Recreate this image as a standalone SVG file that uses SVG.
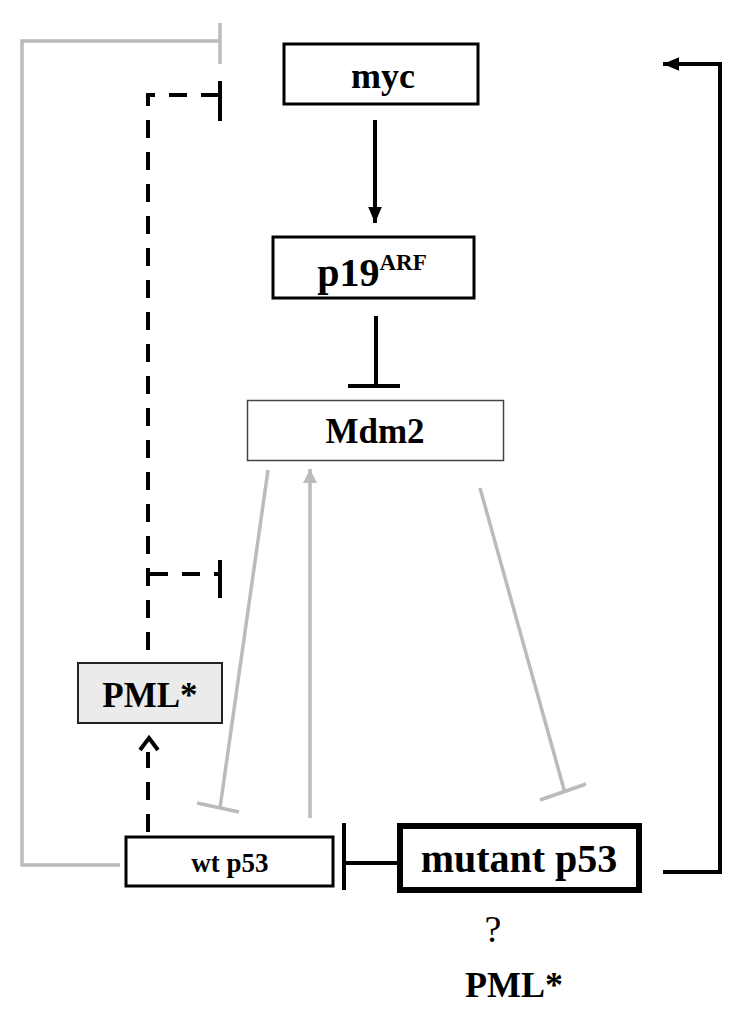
<svg xmlns="http://www.w3.org/2000/svg" width="750" height="1025" viewBox="0 0 750 1025">
<style>
.t{font-family:"Liberation Serif","Times New Roman",serif;font-weight:bold;fill:#000;text-anchor:middle}
.box{fill:#fff;stroke:#000;stroke-width:3}
.blk{fill:none;stroke:#000;stroke-width:4}
.dash{fill:none;stroke:#000;stroke-width:4;stroke-dasharray:18 14}
.gry{fill:none;stroke:#bbb;stroke-width:3.5}
</style>
<defs>
<marker id="ab" markerWidth="5" markerHeight="5" refX="4" refY="2.5" orient="auto" markerUnits="strokeWidth">
<path d="M0,0.8 L4,2.5 L0,4.2 Z" fill="#000"/>
</marker>
<marker id="ag" markerWidth="5" markerHeight="5" refX="4" refY="2.5" orient="auto" markerUnits="strokeWidth">
<path d="M0,0.5 L4,2.5 L0,4.5 Z" fill="#bbb"/>
</marker>
</defs>
<g id="connectors">
<polyline class="gry" points="120,865 22,865 22,41 220,41"/>
<line class="gry" x1="220" y1="23" x2="220" y2="64"/>
<polyline class="dash" points="148,650 148,95 222,95"/>
<line class="blk" x1="220" y1="81" x2="220" y2="121"/>
<line class="dash" x1="150" y1="574" x2="222" y2="574"/>
<line class="blk" x1="220" y1="560" x2="220" y2="598"/>
<line class="dash" x1="148" y1="832" x2="148" y2="752" stroke-dasharray="16 12"/>
<polyline points="140,750 149,738 158,750" fill="none" stroke="#000" stroke-width="4"/>
<line class="blk" x1="375" y1="120" x2="375" y2="223" marker-end="url(#ab)"/>
<line class="blk" x1="376" y1="316" x2="376" y2="386"/>
<line class="blk" x1="348" y1="386" x2="400" y2="386"/>
<line class="gry" x1="268" y1="470" x2="220" y2="808"/>
<line class="gry" x1="197" y1="803" x2="239" y2="812"/>
<line class="gry" x1="310" y1="818" x2="310" y2="469" marker-end="url(#ag)"/>
<line class="gry" x1="480" y1="488" x2="565" y2="793"/>
<line class="gry" x1="540" y1="800" x2="586" y2="784"/>
<line class="blk" x1="344" y1="863" x2="400" y2="863"/>
<line class="blk" x1="344" y1="823" x2="344" y2="890"/>
<polyline class="blk" points="663,872 720,872 720,64 663,64" marker-end="url(#ab)"/>
</g>
<g id="myc">
<rect class="box" x="284" y="44" width="194" height="60"/>
<text class="t" x="383" y="88" font-size="36">myc</text>
</g>
<g id="p19ARF">
<rect class="box" x="273" y="237" width="201" height="61"/>
<text class="t" x="372" y="286" font-size="40">p19<tspan font-size="23" dy="-16">ARF</tspan></text>
</g>
<g id="Mdm2">
<rect x="247.5" y="400.5" width="256" height="60" fill="#fff" stroke="#444" stroke-width="1.5"/>
<text class="t" x="375" y="443" font-size="35">Mdm2</text>
</g>
<g id="PML">
<rect x="78" y="663" width="144" height="60" fill="#ebebeb" stroke="#222" stroke-width="2"/>
<text class="t" x="150" y="707" font-size="35">PML*</text>
</g>
<g id="wtp53">
<rect class="box" x="126" y="837" width="207" height="49"/>
<text class="t" x="230" y="872" font-size="27">wt p53</text>
</g>
<g id="mutantp53">
<rect x="400" y="826" width="239" height="64" fill="#fff" stroke="#000" stroke-width="6"/>
<text class="t" x="519" y="872" font-size="40">mutant p53</text>
</g>
<g id="labels">
<text x="493" y="942" font-size="38" font-family="Liberation Serif, Times New Roman, serif" text-anchor="middle">?</text>
<text class="t" x="514" y="997" font-size="36">PML*</text>
</g>
</svg>
